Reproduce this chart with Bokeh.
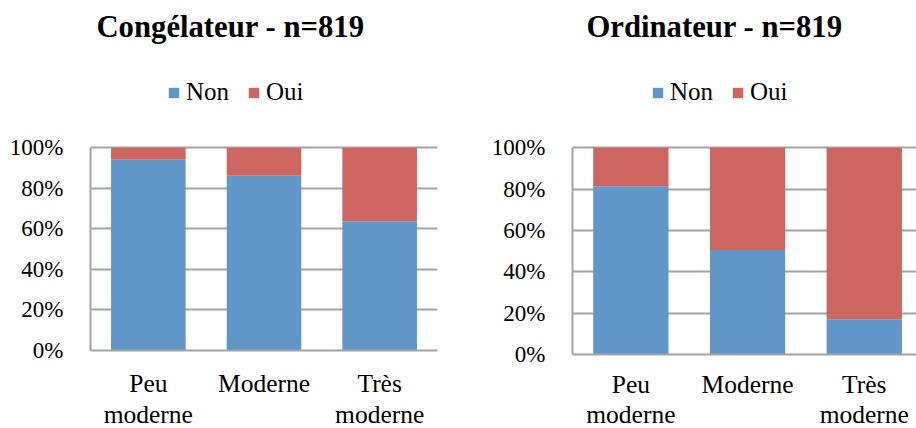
from bokeh.plotting import figure
from bokeh.models import (Range1d, FixedTicker, NumeralTickFormatter, Legend,
                          LegendItem, Label, ColumnDataSource)
from bokeh.layouts import row
from bokeh.embed import file_html
from bokeh.resources import INLINE

# ---- data ----
categories = ["Peu\nmoderne", "Moderne", "Très\nmoderne"]
series = ["Non", "Oui"]
cong_non = [0.941, 0.862, 0.638]
cong_oui = [0.059, 0.138, 0.362]
ordi_non = [0.814, 0.506, 0.171]
ordi_oui = [0.186, 0.494, 0.829]
y_ticks = [0, 0.2, 0.4, 0.6, 0.8, 1.0]
titles = ["Congélateur - n=819", "Ordinateur - n=819"]
colors = ["#6196C8", "#CD6660"]

FONT = "Liberation Serif"
GRAY = "#A3A3A3"


def make_chart(title, non, oui, frame_width, x_end, min_left, min_right,
               frame_height, y_end, min_bottom, x_standoff, line_h, title_x,
               title_y, leg_x, leg_y):
    xs = [i + 0.5 for i in range(len(categories))]
    src = ColumnDataSource(dict(x=xs, Non=non, Oui=oui))
    p = figure(frame_width=frame_width, frame_height=frame_height,
               x_range=Range1d(0, x_end), y_range=Range1d(0, y_end),
               output_backend="svg", toolbar_location=None,
               min_border_left=min_left, min_border_right=min_right,
               min_border_top=0, min_border_bottom=min_bottom)
    p.outline_line_color = None
    p.background_fill_color = "white"
    p.border_fill_color = "white"

    rs = p.vbar_stack(series, x="x", width=0.645, color=colors,
                      line_color=None, source=src)

    # y axis
    p.yaxis.ticker = FixedTicker(ticks=y_ticks)
    p.yaxis.bounds = (0, 1)
    p.yaxis.formatter = NumeralTickFormatter(format="0%")
    p.yaxis.axis_line_color = GRAY
    p.yaxis.axis_line_width = 2
    p.yaxis.major_tick_line_color = None
    p.yaxis.minor_tick_line_color = None
    p.yaxis.major_tick_out = 0
    p.yaxis.major_label_text_font = FONT
    p.yaxis.major_label_text_font_size = "23px"
    p.yaxis.major_label_text_color = "black"
    p.yaxis.major_label_standoff = 27

    # x axis
    p.xaxis.ticker = FixedTicker(ticks=xs)
    p.xaxis.major_label_overrides = {x: c for x, c in zip(xs, categories)}
    p.xaxis.axis_line_color = GRAY
    p.xaxis.axis_line_width = 2
    p.xaxis.major_tick_line_color = None
    p.xaxis.minor_tick_line_color = None
    p.xaxis.major_tick_out = 0
    p.xaxis.major_label_text_font = FONT
    p.xaxis.major_label_text_font_size = "25.5px"
    p.xaxis.major_label_text_color = "black"
    p.xaxis.major_label_standoff = x_standoff
    p.xaxis.major_label_text_line_height = line_h

    p.xgrid.visible = False
    p.ygrid.ticker = FixedTicker(ticks=y_ticks)
    p.ygrid.grid_line_color = GRAY
    p.ygrid.grid_line_width = 2

    p.add_layout(Label(x=title_x, y=title_y, x_units="screen", y_units="screen",
                       text=title, text_align="center", text_baseline="alphabetic",
                       text_font=FONT, text_font_style="bold",
                       text_font_size="30.7px", text_color="black"))

    legend = Legend(items=[LegendItem(label=s, renderers=[r]) for s, r in zip(series, rs)],
                    location=(leg_x, leg_y), orientation="horizontal",
                    glyph_width=13, glyph_height=13, label_standoff=6, spacing=18,
                    padding=0, margin=0, border_line_color=None,
                    background_fill_alpha=0, label_text_font=FONT,
                    label_text_font_size="25px", label_text_color="black")
    p.add_layout(legend)
    return p


p1 = make_chart(titles[0], cong_non, cong_oui, frame_width=347, x_end=3.0,
                min_left=90, min_right=33, frame_height=350, y_end=350 / 202.7,
                min_bottom=78, x_standoff=18, line_h=1.08, title_x=140,
                title_y=324, leg_x=77, leg_y=244)
p2 = make_chart(titles[1], ordi_non, ordi_oui, frame_width=344, x_end=344 / 116.7,
                min_left=102, min_right=0, frame_height=354, y_end=354 / 206.7,
                min_bottom=74, x_standoff=15, line_h=1.05, title_x=142,
                title_y=328, leg_x=79, leg_y=248)

layout = row(p1, p2, spacing=0)
open("out.html", "w").write(file_html(layout, INLINE))
